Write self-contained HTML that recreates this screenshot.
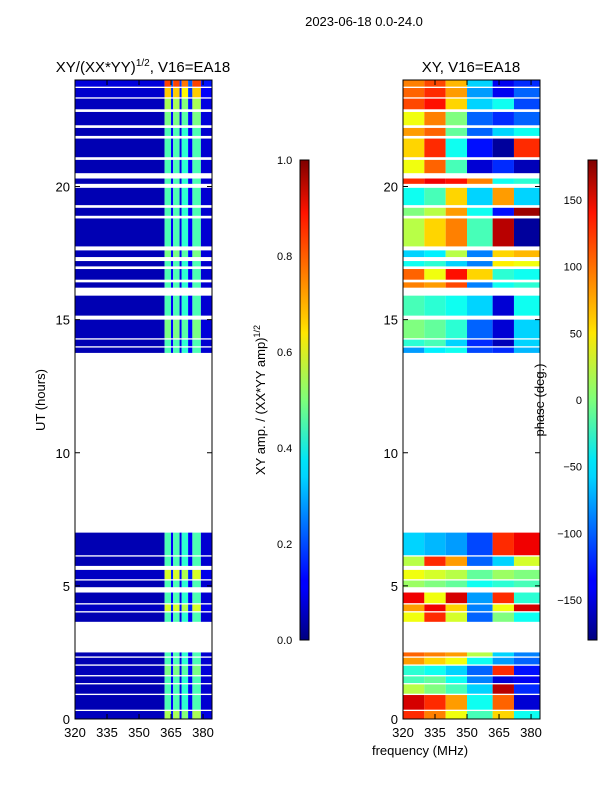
<!DOCTYPE html>
<html><head><meta charset="utf-8">
<style>
body{margin:0;background:#fff;}
svg text{font-family:"Liberation Sans",sans-serif;fill:#000;}
</style></head>
<body>
<svg id="chart" width="600" height="800" viewBox="0 0 600 800" xmlns="http://www.w3.org/2000/svg">
<defs>
<linearGradient id="jet" x1="0" y1="1" x2="0" y2="0">
<stop offset="0" stop-color="#00007f"/><stop offset="0.11" stop-color="#0000ff"/><stop offset="0.125" stop-color="#0000ff"/>
<stop offset="0.34" stop-color="#00d4ff"/><stop offset="0.375" stop-color="#00e5f7"/><stop offset="0.5" stop-color="#7dff7a"/>
<stop offset="0.64" stop-color="#ffe600"/><stop offset="0.66" stop-color="#ffd200"/><stop offset="0.89" stop-color="#ff1300"/><stop offset="1" stop-color="#7f0000"/>
</linearGradient>
</defs>
<text x="364" y="26" font-size="13" text-anchor="middle">2023-06-18 0.0-24.0</text>
<text x="143" y="72" font-size="15" text-anchor="middle">XY/(XX*YY)<tspan font-size="10" dy="-6">1/2</tspan><tspan dy="6">, V16=EA18</tspan></text>
<text x="471" y="72" font-size="15" text-anchor="middle">XY, V16=EA18</text>
<g id="ampPanel"></g>
<g id="phPanel"></g>
<rect x="75" y="80" width="137" height="639" fill="none" stroke="#000"/>
<rect x="403" y="80" width="137" height="639" fill="none" stroke="#000"/>
<g id="axes"></g>
<text transform="translate(45,400) rotate(-90)" font-size="13" text-anchor="middle">UT (hours)</text>
<text x="420" y="755" font-size="13" text-anchor="middle">frequency (MHz)</text>
<rect x="300" y="160" width="9" height="480" fill="url(#jet)" stroke="#000" stroke-width="1"/>
<rect x="588" y="160" width="9" height="480" fill="url(#jet)" stroke="#000" stroke-width="1"/>
<text transform="translate(265,400) rotate(-90)" font-size="13" text-anchor="middle">XY amp. / (XX*YY amp)<tspan font-size="9" dy="-5">1/2</tspan></text>
<text transform="translate(544,400) rotate(-90)" font-size="13" text-anchor="middle">phase (deg.)</text>
</svg>
<script>
const segments=[[0,0.3],[0.35,0.9],[0.95,1.3],[1.35,1.6],[1.65,2.0],[2.05,2.3],[2.35,2.5],
[3.65,4.0],[4.05,4.3],[4.35,4.75],[4.95,5.2],[5.25,5.6],[5.75,6.1],[6.15,7.0],
[13.75,13.95],[14.0,14.25],[14.3,15.0],[15.15,15.9],[16.2,16.4],[16.5,16.9],[17.0,17.2],[17.35,17.6],[17.75,18.8],[18.9,19.2],[19.3,19.95],[20.1,20.3],[20.5,21.0],[21.1,21.8],[21.9,22.2],[22.3,22.8],[22.9,23.3],[23.35,23.7],[23.75,24]];
const freqEdges=[320,362,365,366,369,370,373,375,379,384.2];
const ampBand=[0.05,0.45,0.12,0.45,0.1,0.42,0.12,0.45,0.08];
const segGain=[1.2,1,1,1,1.1,1,1,1,1.3,1,1,1.3,1,1,1,1,1.1,1,1,1,1,1.1,1,1,1,1,1,1,1,1.1,1.2,1.5,1.8];
const phEdges=[320,330,340,350,362,372,384.2];
const phase=[
[120,90,40,-20,60,-40],[150,120,80,-40,100,-150],[20,0,-20,-60,160,-120],[-20,-10,-40,-90,-150,-140],[-30,-40,-60,-100,120,-130],[80,60,40,-40,-80,-100],[100,90,80,20,-60,-90],
[40,120,30,-100,0,-40],[80,140,60,-90,40,150],[140,40,150,-80,120,-30],[10,0,-10,-40,-30,-20],[40,30,20,-10,10,0],[20,120,80,-100,-60,30],[-60,-70,-80,-110,120,140],
[-80,-50,-40,-110,-120,-70],[-30,-20,-60,-120,-160,-60],[0,-10,-30,-100,-150,-60],[-20,-30,-40,-60,-150,-40],[90,80,110,-90,-40,-30],[100,40,130,60,-30,-40],[-40,-30,-60,-90,50,40],[-60,-50,20,-90,60,70],
[20,60,90,-20,160,-170],[0,20,80,-40,-130,170],[-40,-20,60,-60,80,-60],[120,140,130,90,-40,-30],[40,100,-20,-150,-120,-160],[60,120,-40,-130,-170,120],[80,100,-10,-100,-60,-40],[40,90,0,-100,-120,-100],[110,130,60,-60,-40,-110],[100,120,80,-80,-140,-100],[90,110,70,-60,-140,-120]];
const yTicks=[0,5,10,15,20];
const xTicks=[320,335,350,365,380];
const ampTicks=[0.0,0.2,0.4,0.6,0.8,1.0];
const phTicks=[-150,-100,-50,0,50,100,150];
const NS="http://www.w3.org/2000/svg";
const yS=h=>719-h*26.625;
const xL=f=>75+(f-320)*137/64.2;
const xR=f=>403+(f-320)*137/64.2;
function jet(v){v=Math.max(0,Math.min(1,v));
 const c=x=>Math.round(255*Math.max(0,Math.min(1,1.5-Math.abs(4*v-x))));
 return `rgb(${c(3)},${c(2)},${c(1)})`;}
function mk(tag,attrs,parent){const e=document.createElementNS(NS,tag);for(const k in attrs)e.setAttribute(k,attrs[k]);parent.appendChild(e);return e;}
const ampG=document.getElementById('ampPanel'),phG=document.getElementById('phPanel'),ax=document.getElementById('axes');
segments.forEach((s,i)=>{
 for(let b=0;b<ampBand.length;b++){
  const r=mk('rect',{x:xL(freqEdges[b]),y:yS(s[1]),width:xL(freqEdges[b+1])-xL(freqEdges[b]),height:yS(s[0])-yS(s[1]),fill:jet(b===0?ampBand[b]*segGain[i]:ampBand[b]*segGain[i])},ampG);
  
  
 }
 for(let b=0;b<phase[i].length;b++){
  const r=mk('rect',{x:xR(phEdges[b]),y:yS(s[1]),width:xR(phEdges[b+1])-xR(phEdges[b]),height:yS(s[0])-yS(s[1]),fill:jet((phase[i][b]+180)/360)},phG);
  
  
 }
});
[[75,xL],[403,xR]].forEach(([x0,fx],p)=>{
 yTicks.forEach(t=>{const y=yS(t);
  mk('line',{x1:x0,x2:x0+5,y1:y,y2:y,stroke:'#000'},ax);mk('line',{x1:x0+137,x2:x0+132,y1:y,y2:y,stroke:'#000'},ax);
  const tx=mk('text',{x:x0-5,y:y+5,'font-size':13,'text-anchor':'end'},ax);tx.textContent=t;
  
  });
 xTicks.forEach(t=>{const x=fx(t);
  mk('line',{x1:x,x2:x,y1:719,y2:714,stroke:'#000'},ax);mk('line',{x1:x,x2:x,y1:80,y2:85,stroke:'#000'},ax);
  const tx=mk('text',{x:x,y:737,'font-size':13,'text-anchor':'middle'},ax);tx.textContent=t;
  
  });
});
ampTicks.forEach(t=>{const y=640-t*480;
 mk('line',{x1:300,x2:303,y1:y,y2:y,stroke:'#000'},ax);
 const tx=mk('text',{x:277,y:y+4,'font-size':11,'text-anchor':'start'},ax);tx.textContent=t.toFixed(1);
 
 });
phTicks.forEach(t=>{const y=400-t*480/360;
 mk('line',{x1:588,x2:591,y1:y,y2:y,stroke:'#000'},ax);
 const tx=mk('text',{x:582,y:y+4,'font-size':11,'text-anchor':'end'},ax);tx.textContent=t<0?'\u2212'+(-t):t;
 
 });
</script>
</body></html>
